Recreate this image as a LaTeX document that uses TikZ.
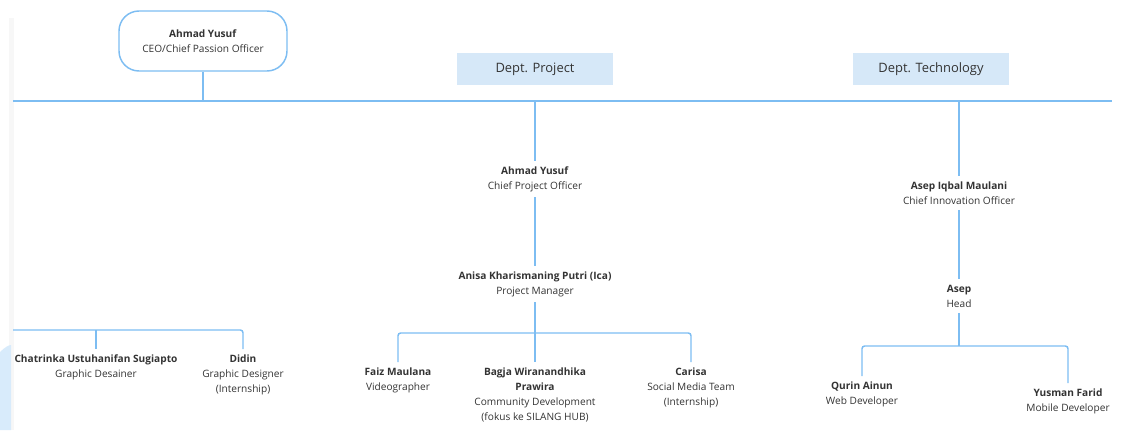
\documentclass[tikz,border=0pt]{standalone}
\usepackage{fontspec}
\setmainfont{Open Sans}
\definecolor{ln}{HTML}{7DBDF2}
\definecolor{deptfill}{HTML}{D6E8F8}
\definecolor{txt}{HTML}{333333}
\begin{document}
\begin{tikzpicture}[x=0.75pt,y=-0.75pt,
  every node/.style={font=\fontsize{7.6}{11.2}\selectfont, text=txt},
  person/.style={align=center, inner sep=4pt},
  link/.style={draw=ln, line width=1.1pt, rounded corners=2pt},
  deptbox/.style={fill=deptfill, minimum width=117pt, minimum height=24pt, inner sep=0pt, font=\fontsize{9.7}{11}\selectfont},
  ceobox/.style={draw=ln, line width=1.1pt, rounded corners=15pt, minimum width=126pt, minimum height=45pt, align=center, fill=white},
]
\useasboundingbox (0,0) rectangle (1125,430);
% left edge artefacts
\fill[black!3] (9,18) rectangle (14,430);
\fill[ln!30] (0,352) .. controls (5,347) and (9,345) .. (11,345) -- (11,430) -- (0,430) -- cycle;

% top
\node[ceobox] (ceo) at (203,41) {\textbf{Ahmad Yusuf}\\CEO/Chief Passion Officer};
\node[deptbox] (dp) at (535,69) {Dept. Project};
\node[deptbox] (dt) at (931,69) {Dept. Technology};

\coordinate (mL) at (13,101);
\coordinate (mR) at (1112,101);
\coordinate (mC) at (203,101);
\coordinate (mP) at (535,101);
\coordinate (mT) at (959,101);
\draw[link] (mL) -- (mR);
\draw[link] (ceo.south) -- (mC);

% project branch
\node[person] (cpo) at (535,179) {\textbf{Ahmad Yusuf}\\Chief Project Officer};
\node[person] (pm) at (535,284) {\textbf{Anisa Kharismaning Putri (Ica)}\\Project Manager};
\node[person, anchor=north] (faiz) at (398,362) {\textbf{Faiz Maulana}\\Videographer};
\node[person, anchor=north] (bagja) at (535,362) {\textbf{Bagja Wiranandhika}\\\textbf{Prawira}\\Community Development\\(fokus ke SILANG HUB)};
\node[person, anchor=north] (carisa) at (691,362) {\textbf{Carisa}\\Social Media Team\\(Internship)};
\draw[link] (mP) -- (cpo.north);
\draw[link] (cpo.south) -- (pm.north);
\draw[link] (pm.south) -- (bagja.north);
\coordinate (pb) at (535,333);
\draw[link] (faiz.north) |- (pb) -| (carisa.north);

% technology branch
\node[person] (cio) at (959,193) {\textbf{Asep Iqbal Maulani}\\Chief Innovation Officer};
\node[person] (head) at (959,296) {\textbf{Asep}\\Head};
\node[person, anchor=north] (qurin) at (862,376) {\textbf{Qurin Ainun}\\Web Developer};
\node[person, anchor=north] (yusman) at (1068,383) {\textbf{Yusman Farid}\\Mobile Developer};
\coordinate (tb) at (959,346);
\draw[link] (mT) -- (cio.north);
\draw[link] (cio.south) -- (head.north);
\draw[link] (head.south) -- (tb);
\draw[link] (qurin.north) |- (tb) -| (yusman.north);

% left group
\node[person, anchor=north] (chat) at (96,349) {\textbf{Chatrinka Ustuhanifan Sugiapto}\\Graphic Desainer};
\node[person, anchor=north] (didin) at (243,349) {\textbf{Didin}\\Graphic Designer\\(Internship)};
\coordinate (lL) at (13,330);
\coordinate (lC) at (96,330);
\draw[link] (lL) -| (didin.north);
\draw[link] (chat.north) -- (lC);
\end{tikzpicture}
\end{document}
